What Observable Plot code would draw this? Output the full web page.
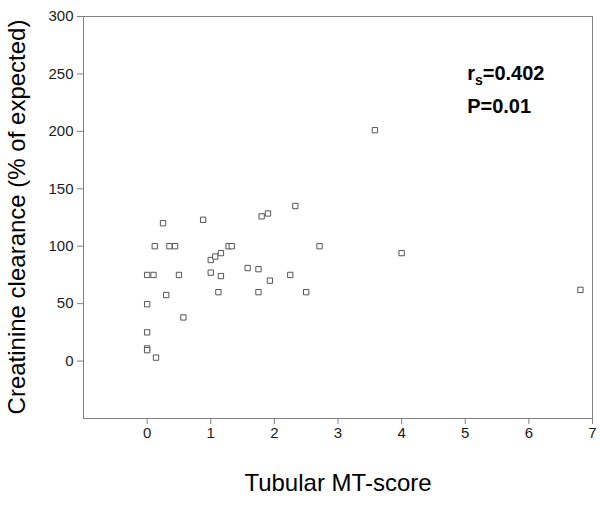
<!DOCTYPE html>
<html>
<head>
<meta charset="utf-8">
<script src="https://cdn.jsdelivr.net/npm/d3@7"></script>
<script src="https://cdn.jsdelivr.net/npm/@observablehq/plot@0.6"></script>
<style>
  html, body { margin: 0; padding: 0; background: white; }
</style>
</head>
<body>
<div id="chart"></div>
<script>
// Tubular MT-score (x) vs creatinine clearance (% of expected) (y)
const mtScore = [0.25, 0.88, 1.80, 1.90, 0.12, 0.35, 0.44, 1.28, 1.33, 1.00, 1.07, 1.16,
  0.00, 0.10, 0.50, 1.00, 1.16, 1.58, 1.75, 1.93, 0.30, 1.12, 1.75, 0.00, 0.57, 0.00,
  0.00, 0.00, 0.14, 2.33, 2.71, 4.00, 2.25, 2.50, 3.58, 6.81];
const clearance = [120, 123, 126, 128.5, 100, 100, 100, 100, 100, 88, 91, 94,
  75, 75, 75, 77, 74, 81, 80, 70, 57.5, 60, 60, 49.5, 38, 25,
  11, 9.5, 3, 135, 100, 94, 75, 60, 201, 62];
const xTicks = [0, 1, 2, 3, 4, 5, 6, 7];
const yTicks = [0, 50, 100, 150, 200, 250, 300];
const annotText = ["rs=0.402", "P=0.01"];
const annotX = [5.03, 5.03];
const annotY = [245, 216];
const xTitle = "Tubular MT-score";
const yTitle = "Creatinine clearance (% of expected)";

const points = mtScore.map((x, i) => ({x, y: clearance[i]}));
const annot = annotText.map((t, i) => ({t, x: annotX[i], y: annotY[i]}));

const plot = Plot.plot({
  width: 600,
  height: 506,
  marginLeft: 83,
  marginRight: 8,
  marginTop: 16,
  marginBottom: 88,
  style: {fontFamily: "'Liberation Sans', Arial, sans-serif", fontSize: "15px", color: "#1a1a1a", background: "white"},
  x: {domain: [-1, 7], label: null},
  y: {domain: [-50, 300], label: null},
  marks: [
    Plot.frame({stroke: "#808080"}),
    Plot.axisX({ticks: xTicks, tickSize: 6, tickPadding: 3, stroke: "#808080", label: null}),
    Plot.axisY({ticks: yTicks, tickSize: 6, tickPadding: 4, stroke: "#808080", label: null}),
    Plot.dot(points, {x: "x", y: "y", symbol: "square", r: 3, stroke: "#555", fill: "white", strokeWidth: 1}),
    Plot.text(annot, {x: "x", y: "y", text: "t", textAnchor: "start", lineAnchor: "bottom", fontWeight: "bold", fontSize: 20, fill: "#000"})
  ]
});

const svg = d3.select(plot);
// subscript in r_s
svg.selectAll("text").each(function() {
  if (this.textContent === "rs=0.402") {
    const t = d3.select(this);
    t.text(null);
    t.append("tspan").text("r");
    t.append("tspan").attr("dy", 5).attr("font-size", 14).text("s");
    t.append("tspan").attr("dy", -5).text("=0.402");
  }
});
// axis titles
svg.append("text")
  .attr("transform", "translate(25,217) rotate(-90)")
  .attr("text-anchor", "middle")
  .attr("font-size", 24)
  .attr("fill", "#000")
  .text(yTitle);
svg.append("text")
  .attr("x", 338)
  .attr("y", 491)
  .attr("text-anchor", "middle")
  .attr("font-size", 24)
  .attr("fill", "#000")
  .text(xTitle);

document.getElementById("chart").appendChild(plot);
</script>
</body>
</html>
